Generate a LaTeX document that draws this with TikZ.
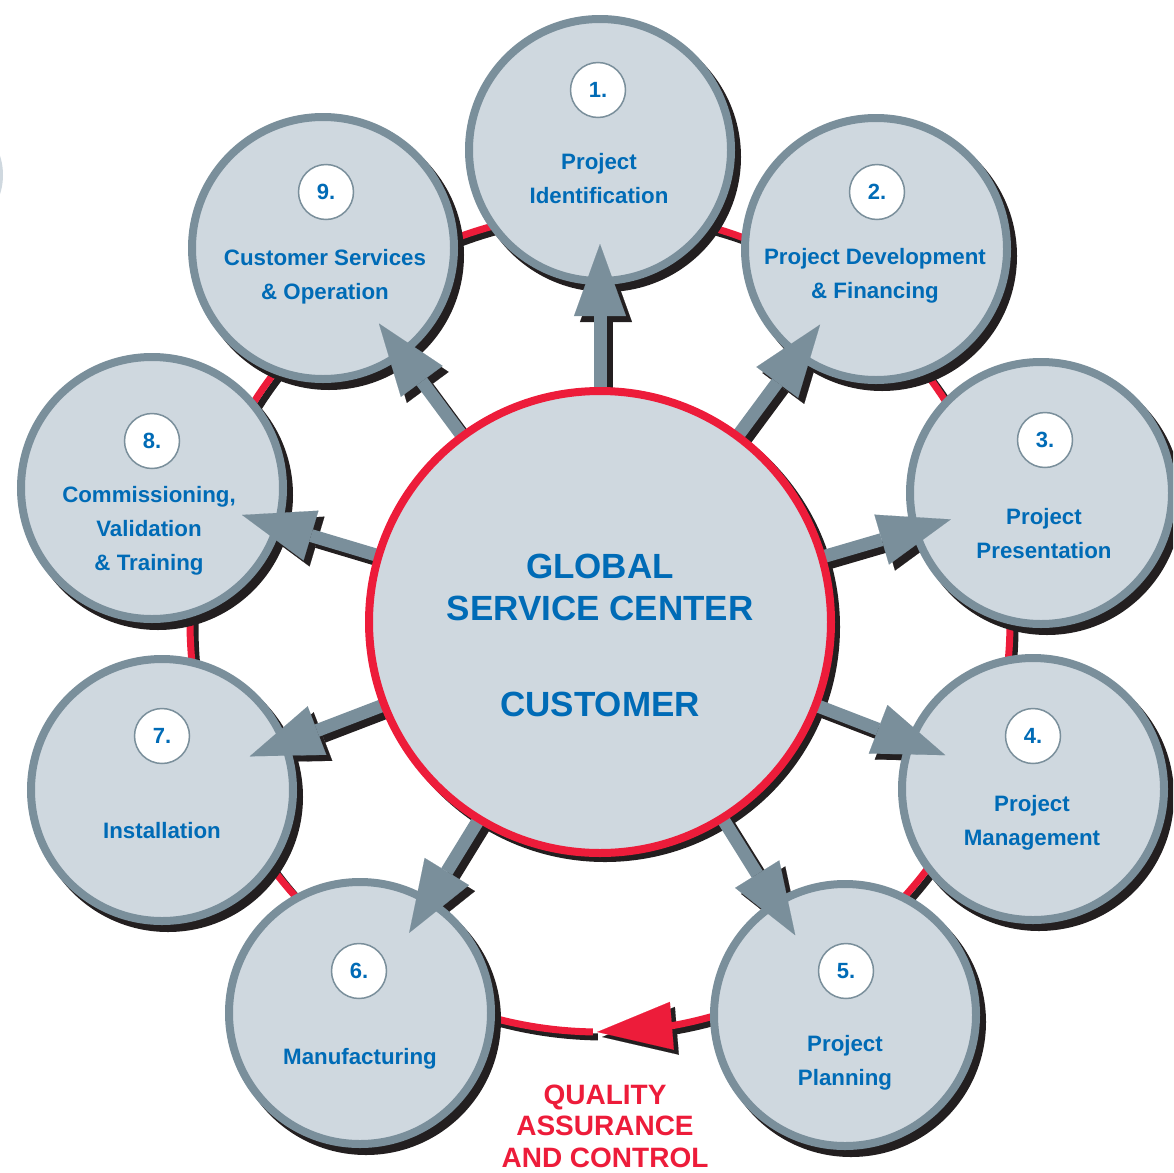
\documentclass[tikz,border=0pt]{standalone}
\usepackage{fontspec}
\setmainfont{Liberation Sans}
\usetikzlibrary{arrows.meta,calc,bending}
\definecolor{fillc}{HTML}{CFD8DF}
\definecolor{edgec}{HTML}{7A8F9B}
\definecolor{redc}{HTML}{ED1C3A}
\definecolor{bluec}{HTML}{006BB6}
\definecolor{shadc}{HTML}{231F20}
\begin{document}
\begin{tikzpicture}[x=1pt,y=-1pt,
  outer/.style={circle,draw=edgec,fill=fillc,line width=8pt,minimum size=262pt,inner sep=0pt},
  centerc/.style={circle,draw=redc,fill=fillc,line width=8pt,minimum size=462pt,inner sep=0pt},
  badge/.style={circle,draw=edgec,fill=white,line width=1.5pt,minimum size=55pt,inner sep=0pt,text=bluec,font=\fontsize{22}{26}\selectfont\bfseries},
  lbl/.style={align=center,text=bluec,inner sep=0pt,font=\fontsize{22.3}{34}\selectfont\bfseries},
  biglbl/.style={align=center,text=bluec,inner sep=0pt,font=\fontsize{35}{42}\selectfont\bfseries},
  qalbl/.style={align=center,text=redc,inner sep=0pt,font=\fontsize{28}{31.5}\selectfont\bfseries},
  garrow/.style={draw=edgec,line width=13pt,-{Triangle[length=72pt,width=52pt,line width=0.1pt]}},
  gshadow/.style={draw=shadc,line width=13pt,-{Triangle[length=72pt,width=52pt,line width=0.1pt]}},
  ringline/.style={draw=redc,line width=7pt,-{Triangle[length=75pt,width=48pt,line width=0.1pt]}},
  ringshadow/.style={draw=shadc,line width=7pt,-{Triangle[length=75pt,width=48pt,line width=0.1pt]}}
]
\useasboundingbox (0,0) rectangle (1173,1173);
\clip (0,0) rectangle (1173,1173);
\fill[fillc] (-60,175) circle[radius=63];

\coordinate (O) at (600,622);
\foreach \i/\x/\y in {1/600/150,2/876/249,3/1041/493,4/1033/789,5/845/1015,6/360/1013,7/162/790,8/152/488,9/323/248}
  {\coordinate (p\i) at (\x,\y);}
\foreach \i in {1,...,9}
  {\coordinate (a\i) at ($(p\i)!94pt!(O)$);}

% quality ring
\draw[ringshadow] ($(O)+(5,5)+(91:410)$) arc[start angle=91, end angle=450.4, radius=410];
\draw[ringline] ($(O)+(91:410)$) arc[start angle=91, end angle=450.4, radius=410];

% central shadow
\fill[shadc] ($(O)+(5,5)$) circle[radius=235];

% arrow shadows
\foreach \i in {1,...,9}
  {\draw[gshadow] ($(O)+(6,6)$) -- ($(a\i)+(6,6)$);}

% outer circles
\foreach \i in {1,...,9}
  {\fill[shadc] ($(p\i)+(6,7)$) circle[radius=135];}
\foreach \i in {1,...,9}
  {\node[outer] (c\i) at (p\i) {};}

% arrows
\foreach \i in {1,...,9}
  {\draw[garrow] (O) -- (a\i);}

% central circle
\node[centerc] (gsc) at (O) {};
\node[biglbl] (g1) at (600,587) {GLOBAL\\SERVICE CENTER};
\node[biglbl] (g2) at (600,704) {CUSTOMER};

% badges
\node[badge] (b1) at (598,90) {1.};
\node[badge] (b2) at (877,192) {2.};
\node[badge] (b3) at (1045,440) {3.};
\node[badge] (b4) at (1033,736) {4.};
\node[badge] (b5) at (846,971) {5.};
\node[badge] (b6) at (359,971) {6.};
\node[badge] (b7) at (162,736) {7.};
\node[badge] (b8) at (152,441) {8.};
\node[badge] (b9) at (326,192) {9.};

% labels
\node[lbl] (t1) at (599,179) {Project\\Identification};
\node[lbl] (t2) at (875,276) {Project Development\\\& Financing};
\node[lbl] (t3) at (1044,534) {Project\\Presentation};
\node[lbl] (t4) at (1032,823) {Project\\Management};
\node[lbl] (t5) at (845,1063) {Project\\Planning};
\node[lbl] (t6) at (360,1059) {Manufacturing};
\node[lbl] (t7) at (162,831) {Installation};
\node[lbl] (t8) at (149,531) {Commissioning,\\Validation\\\& Training};
\node[lbl] (t9) at (325,277) {Customer Services\\\& Operation};

\node[qalbl] (qa) at (605,1126) {QUALITY\\ASSURANCE\\AND CONTROL};
\end{tikzpicture}
\end{document}
